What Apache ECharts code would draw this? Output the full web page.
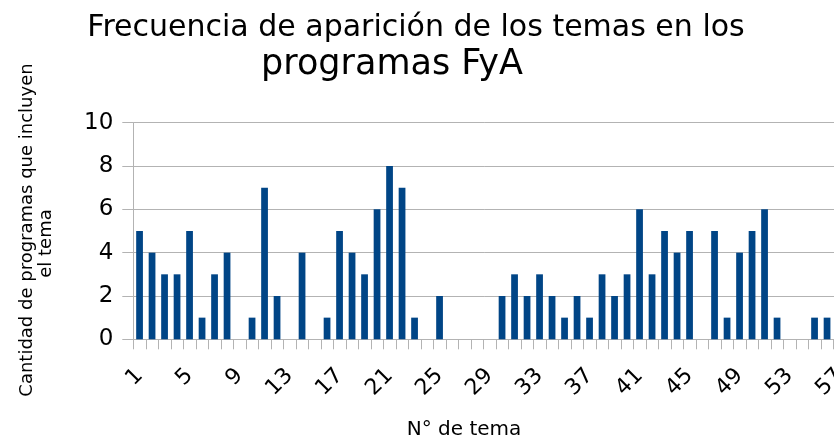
<!DOCTYPE html>
<html>
<head>
<meta charset="utf-8">
<script src="https://cdn.jsdelivr.net/npm/echarts@6/dist/echarts.min.js"></script>
<style>
html,body{margin:0;padding:0;background:#fff;}
#chart{width:834px;height:441px;}
</style>
</head>
<body>
<div id="chart"></div>
<script>
// ---- data ----
const titleLines = ['Frecuencia de aparición de los temas en los', 'programas FyA'];
const yNameLines = ['Cantidad de programas que incluyen', 'el tema'];
const xName = 'N° de tema';
const categories = ['1','2','3','4','5','6','7','8','9','10',
  '11','12','13','14','15','16','17','18','19','20',
  '21','22','23','24','25','26','27','28','29','30',
  '31','32','33','34','35','36','37','38','39','40',
  '41','42','43','44','45','46','47','48','49','50',
  '51','52','53','54','55','56','57'];
const values = [5,4,3,3,5,1,3,4,0,1,
  7,2,0,4,0,1,5,4,3,6,
  8,7,1,0,2,0,0,0,0,2,
  3,2,3,2,1,2,1,3,2,3,
  6,3,5,4,5,0,5,1,4,5,
  6,1,0,0,1,1,0];
const yTicks = {min: 0, max: 10, interval: 2};

// ---- chart ----
const FONT = 'DejaVu Sans';
const GRAY = '#b3b3b3';
const chart = echarts.init(document.getElementById('chart'), null, {renderer: 'canvas'});
chart.setOption({
  animation: false,
  backgroundColor: '#ffffff',
  textStyle: {fontFamily: FONT},
  grid: {left: 133.3, top: 122.7, right: -11.8, bottom: 101.7, containLabel: false, outerBoundsMode: 'none'},
  xAxis: {
    type: 'category',
    data: categories,
    boundaryGap: true,
    axisLine: {show: true, lineStyle: {color: GRAY, width: 1}},
    axisTick: {show: true, interval: 0, length: 10, lineStyle: {color: GRAY}},
    axisLabel: {interval: 3, rotate: 45, fontSize: 22, color: '#000', fontFamily: FONT, margin: 33}
  },
  yAxis: {
    type: 'value',
    min: yTicks.min, max: yTicks.max, interval: yTicks.interval,
    axisLine: {show: true, lineStyle: {color: GRAY, width: 1}},
    axisTick: {show: true, length: 11, lineStyle: {color: GRAY}},
    axisLabel: {fontSize: 23, color: '#000', fontFamily: FONT, margin: 20},
    splitLine: {show: true, lineStyle: {color: GRAY, width: 1}}
  },
  series: [{
    type: 'bar',
    data: values,
    barWidth: '54%',
    itemStyle: {color: '#004586'}
  }],
  graphic: [
    {type: 'text', x: 416, y: 28.5, style: {text: titleLines[0], font: '30px "DejaVu Sans"', fill: '#000', textAlign: 'center', textVerticalAlign: 'middle'}},
    {type: 'text', x: 392, y: 65, style: {text: titleLines[1], font: '35px "DejaVu Sans"', fill: '#000', textAlign: 'center', textVerticalAlign: 'middle'}},
    {type: 'text', x: 27, y: 230, rotation: Math.PI / 2, style: {text: yNameLines[0], font: '18px "DejaVu Sans"', fill: '#000', textAlign: 'center', textVerticalAlign: 'middle'}},
    {type: 'text', x: 46, y: 243.5, rotation: Math.PI / 2, style: {text: yNameLines[1], font: '18px "DejaVu Sans"', fill: '#000', textAlign: 'center', textVerticalAlign: 'middle'}},
    {type: 'text', x: 464, y: 429.5, style: {text: xName, font: '20px "DejaVu Sans"', fill: '#000', textAlign: 'center', textVerticalAlign: 'middle'}}
  ]
});
</script>
</body>
</html>
